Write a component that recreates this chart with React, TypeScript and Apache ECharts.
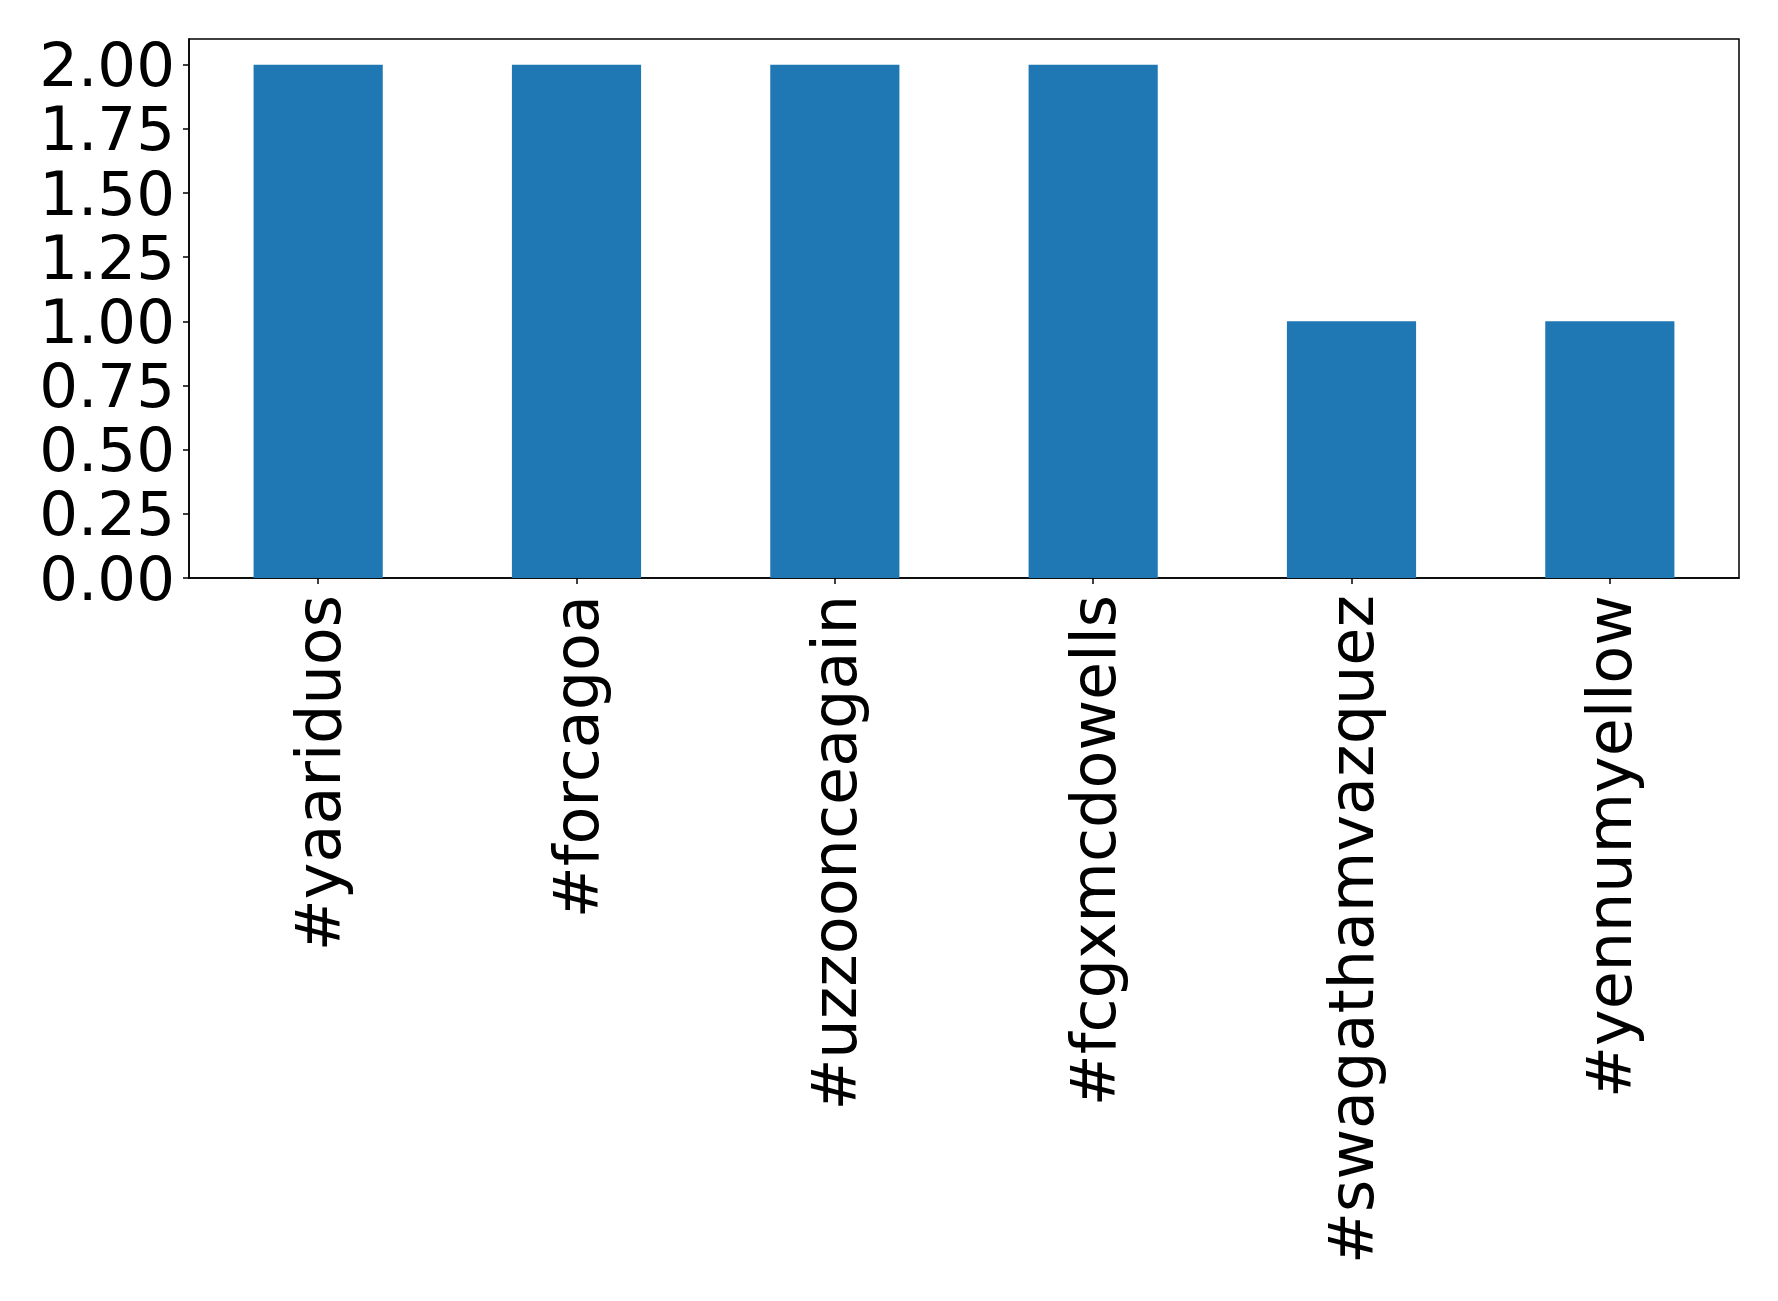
import React, { useEffect, useRef } from "react";
import * as echarts from "echarts";

const categories = ["#yaariduos", "#forcagoa", "#uzzoonceagain", "#fcgxmcdowells", "#swagathamvazquez", "#yennumyellow"];
const counts = [2, 2, 2, 2, 1, 1];
const yTicks = [0, 0.25, 0.5, 0.75, 1, 1.25, 1.5, 1.75, 2];

export default function App() {
  const ref = useRef<HTMLDivElement>(null);
  useEffect(() => {
    if (!ref.current) return;
    const chart = echarts.init(ref.current, null, { renderer: "svg" });
    const font = "DejaVu Sans";
    chart.setOption({
      animation: false,
      backgroundColor: "#ffffff",
      grid: {
        left: 189,
        top: 39,
        right: 39,
        bottom: 723,
        show: true,
        borderColor: "#000000",
        borderWidth: 1.5,
        backgroundColor: "transparent",
      },
      xAxis: {
        type: "category",
        data: categories,
        axisLine: { show: true, lineStyle: { color: "#000", width: 1.5 } },
        axisTick: { show: true, alignWithLabel: true, length: 6, lineStyle: { color: "#000", width: 1.5 } },
        axisLabel: {
          rotate: 90,
          interval: 0,
          margin: 17,
          fontFamily: font,
          fontSize: 62,
          color: "#000",
        },
        splitLine: { show: false },
      },
      yAxis: {
        type: "value",
        min: 0,
        max: 2.1,
        interval: 0.25,
        axisLine: { show: true, lineStyle: { color: "#000", width: 1.5 } },
        axisTick: { show: true, length: 6, customValues: yTicks, lineStyle: { color: "#000", width: 1.5 } },
        axisLabel: {
          customValues: yTicks,
          margin: 14,
          fontFamily: font,
          fontSize: 61,
          lineHeight: 56,
          color: "#000",
          formatter: (v: number) => (v > 2.001 ? "" : v.toFixed(2)),
        },
        splitLine: { show: false },
      },
      series: [
        {
          type: "bar",
          data: counts,
          barWidth: "50%",
          itemStyle: { color: "#1f77b4" },
        },
      ],
    });
    return () => chart.dispose();
  }, []);
  return <div ref={ref} style={{ position: "absolute", left: 0, top: 0, width: 1778, height: 1301 }} />;
}
